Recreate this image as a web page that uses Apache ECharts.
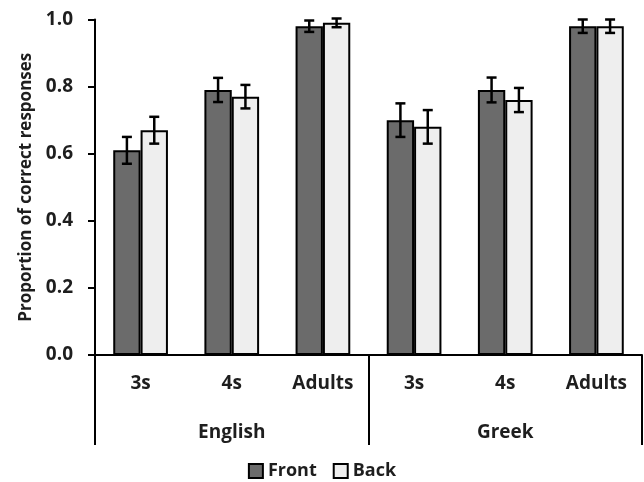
<!DOCTYPE html>
<html>
<head>
<meta charset="utf-8">
<script src="https://cdn.jsdelivr.net/npm/echarts@6/dist/echarts.min.js"></script>
<style>
  html, body { margin: 0; padding: 0; background: #ffffff; }
  #chart { width: 644px; height: 482px; }
</style>
</head>
<body>
<div id="chart"></div>
<script>
// Age groups within each language, and the language groups themselves
const ageGroups = ['3s', '4s', 'Adults', '3s', '4s', 'Adults'];
const languages = ['English', 'Greek'];

// Mean proportion correct per condition
const frontValues = [0.61, 0.79, 0.98, 0.70, 0.79, 0.98];
const backValues  = [0.67, 0.77, 0.99, 0.68, 0.76, 0.98];

// Error-bar half-widths
const frontErrors = [0.04, 0.036, 0.017, 0.05, 0.037, 0.02];
const backErrors  = [0.04, 0.035, 0.013, 0.05, 0.036, 0.02];

const yTicks = [0, 0.2, 0.4, 0.6, 0.8, 1.0];

const FONT = '"Open Sans", sans-serif';
const TEXT_COLOR = '#1e1e1e';
const barShare = 0.3; // each bar's share of a category band (barCategoryGap 40%, barGap 0)

function errorSeries(name, values, errors, side) {
  return {
    type: 'custom',
    name: name + ' error',
    z: 5,
    silent: true,
    data: values.map((v, i) => [i, v, errors[i]]),
    renderItem: function (params, api) {
      const idx = api.value(0);
      const mean = api.value(1);
      const err = api.value(2);
      const band = api.size([1, 0])[0];
      const cx = api.coord([idx, mean])[0] + side * band * barShare / 2;
      const yTop = api.coord([idx, mean + err])[1];
      const yBot = api.coord([idx, mean - err])[1];
      const half = 5;
      const style = { stroke: '#000000', lineWidth: 2.5 };
      return {
        type: 'group',
        children: [
          { type: 'line', shape: { x1: cx, y1: yTop, x2: cx, y2: yBot }, style: style },
          { type: 'line', shape: { x1: cx - half, y1: yTop, x2: cx + half, y2: yTop }, style: style },
          { type: 'line', shape: { x1: cx - half, y1: yBot, x2: cx + half, y2: yBot }, style: style }
        ]
      };
    }
  };
}

const labelStyle = { fontFamily: FONT, fontWeight: 700, fontSize: 19, color: TEXT_COLOR };

const chart = echarts.init(document.getElementById('chart'), null, { renderer: 'canvas' });

chart.setOption({
  animation: false,
  backgroundColor: '#ffffff',
  textStyle: { fontFamily: FONT },
  grid: { left: 95, right: 2, top: 19.5, bottom: 127, containLabel: false },
  legend: {
    data: ['Front', 'Back'],
    top: 457,
    left: 'center',
    itemWidth: 14,
    itemHeight: 14,
    itemGap: 16,
    icon: 'rect',
    textStyle: Object.assign({}, labelStyle, { fontSize: 18, padding: [0, 0, 0, 0] })
  },
  xAxis: [
    {
      type: 'category',
      data: ageGroups,
      position: 'bottom',
      axisLine: { show: true, lineStyle: { color: '#000000', width: 2 } },
      axisTick: { show: false },
      axisLabel: Object.assign({ interval: 0, margin: 19 }, labelStyle)
    },
    {
      type: 'category',
      data: languages,
      position: 'bottom',
      offset: 0,
      axisLine: { show: false },
      axisTick: { show: true, length: 90, lineStyle: { color: '#000000', width: 2 } },
      axisLabel: Object.assign({ interval: 0, margin: 68 }, labelStyle),
      splitLine: { show: false }
    }
  ],
  yAxis: {
    type: 'value',
    min: 0,
    max: 1,
    interval: 0.2,
    name: 'Proportion of correct responses',
    nameLocation: 'middle',
    nameGap: 60,
    nameTextStyle: Object.assign({}, labelStyle, { fontSize: 17 }),
    axisLine: { show: true, lineStyle: { color: '#000000', width: 2 } },
    axisTick: { show: true, length: 7, lineStyle: { color: '#000000', width: 2 } },
    splitLine: { show: false },
    axisLabel: Object.assign({
      margin: 22,
      formatter: function (v) { return yTicks.indexOf(v) >= 0 ? v.toFixed(1) : ''; }
    }, labelStyle)
  },
  series: [
    {
      type: 'bar',
      name: 'Front',
      xAxisIndex: 0,
      data: frontValues,
      barGap: '0%',
      barCategoryGap: '40%',
      itemStyle: { color: '#6b6b6b', borderColor: '#000000', borderWidth: 2 }
    },
    {
      type: 'bar',
      name: 'Back',
      xAxisIndex: 0,
      data: backValues,
      barGap: '0%',
      barCategoryGap: '40%',
      itemStyle: { color: '#eeeeee', borderColor: '#000000', borderWidth: 2 }
    },
    errorSeries('Front', frontValues, frontErrors, -1),
    errorSeries('Back', backValues, backErrors, 1)
  ]
});
</script>
</body>
</html>
